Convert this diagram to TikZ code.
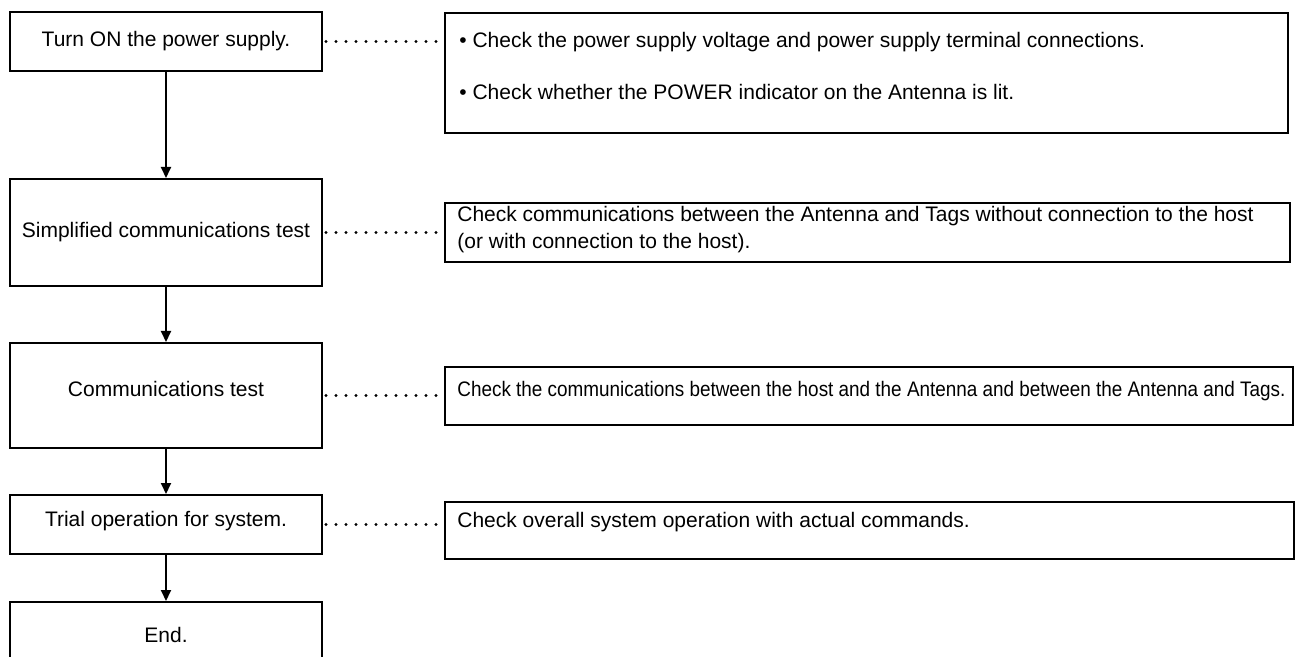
\documentclass[tikz,border=0pt]{standalone}
\usepackage{fontspec}
\setmainfont{Liberation Sans}
\usetikzlibrary{arrows.meta}
\newcommand{\fs}{\fontsize{10.5pt}{13.5pt}\selectfont}
\begin{document}
\begin{tikzpicture}[x=0.5pt,y=-0.5pt,
  stepbox/.style={draw, line width=1pt, minimum width=156pt, inner sep=0pt, font=\fs, text height=7.6pt, text depth=2.1pt},
  infobox/.style={draw, line width=1pt, inner sep=0pt, anchor=north west},
  desc/.style={anchor=west, inner sep=0pt, font=\fs, text height=7.6pt, text depth=2.1pt},
  dotline/.style={line width=1.6pt, line cap=round, dash pattern=on 0pt off 5pt, dash phase=3.5pt},
  arr/.style={line width=1pt, -{Triangle[length=5.5pt,width=5pt]}}]
\useasboundingbox (0,0) rectangle (1295,657);
\clip (0,0) rectangle (1295,657);
\fill[white] (0,0) rectangle (1295,657);

% left steps
\node[stepbox, minimum height=29.5pt] (b1) at (166,41.5) {Turn ON the power supply.};
\node[stepbox, minimum height=53.5pt] (b2) at (166,232.5) {Simplified communications test};
\node[stepbox, minimum height=52.5pt, text depth=7.1pt] (b3) at (166,395.5) {Communications test};
\node[stepbox, minimum height=29.5pt, text depth=5.6pt] (b4) at (166,524.5) {Trial operation for system.};
\node[stepbox, minimum height=35pt] (b5) at (166,637) {End.};

% right boxes
\node[infobox, minimum width=421.5pt, minimum height=60pt] (r1) at (444,12) {};
\node[infobox, minimum width=422.5pt, minimum height=29.5pt] (r2) at (444,202) {};
\node[infobox, minimum width=424pt, minimum height=29pt] (r3) at (444,366) {};
\node[infobox, minimum width=424.5pt, minimum height=28.5pt] (r4) at (444,501) {};

% texts of right boxes
\node[desc] (r1a) at (459,42) {• Check the power supply voltage and power supply terminal connections.};
\node[desc] (r1b) at (459,94) {• Check whether the POWER indicator on the Antenna is lit.};
\node[desc] (r2a) at (457,216) {Check communications between the Antenna and Tags without connection to the host};
\node[desc] (r2b) at (457,243) {(or with connection to the host).};
\node[desc] (r3a) at (457,391) {\scalebox{0.9}[1]{Check the communications between the host and the Antenna and between the Antenna and Tags.}};
\node[desc] (r4a) at (457,522) {Check overall system operation with actual commands.};

% arrows
\draw[arr] (b1.south) -- (b2.north);
\draw[arr] (b2.south) -- (b3.north);
\draw[arr] (b3.south) -- (b4.north);
\draw[arr] (b4.south) -- (b5.north);

% dotted leaders
\draw[dotline] (b1.east) -- (b1.east -| r1.west);
\draw[dotline] (b2.east) -- (b2.east -| r2.west);
\draw[dotline] (b3.east) -- (b3.east -| r3.west);
\draw[dotline] (b4.east) -- (b4.east -| r4.west);
\end{tikzpicture}
\end{document}
